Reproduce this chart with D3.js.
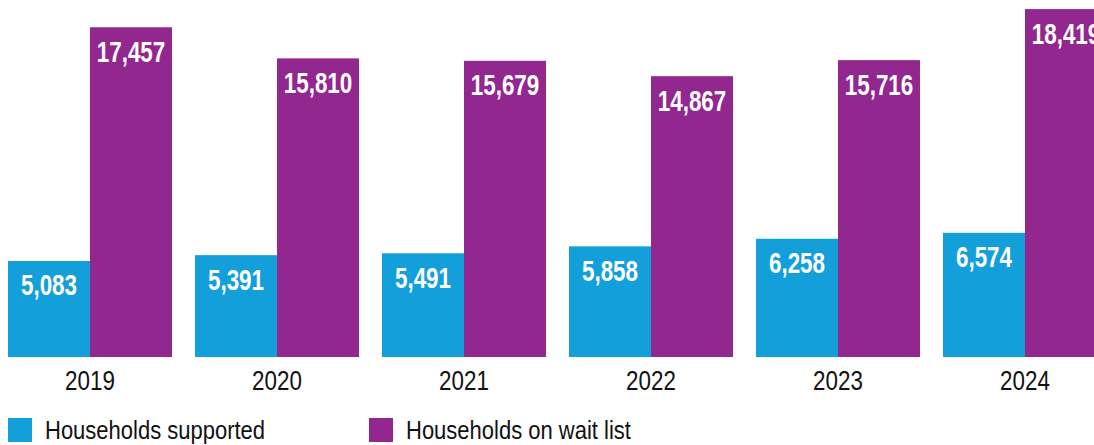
<!DOCTYPE html>
<html>
<head>
<meta charset="utf-8">
<script src="https://cdnjs.cloudflare.com/ajax/libs/d3/7.8.5/d3.min.js"></script>
<style>
  html, body { margin: 0; padding: 0; background: #fff; }
  svg { display: block; }
  text { font-family: "Liberation Sans", Arial, sans-serif; }
</style>
</head>
<body>
<div class="container"></div>
<script>
var years = ['2019', '2020', '2021', '2022', '2023', '2024'];
var supported = [5083, 5391, 5491, 5858, 6258, 6574];
var waitList = [17457, 15810, 15679, 14867, 15716, 18419];
var seriesNames = ['Households supported', 'Households on wait list'];
var seriesColors = ['#129fda', '#92278f'];

let width = 1094,
    height = 445,
    baseline = 357;

let rows = years.map((y, i) => ({ year: y, values: [supported[i], waitList[i]] }));

let svg = d3.select('.container')
            .append('svg')
            .attr('width', width)
            .attr('height', height);

let xScale = d3.scaleBand()
               .domain(years)
               .range([8, 1107])
               .paddingInner(23 / 187)
               .paddingOuter(0);

let x1 = d3.scaleBand()
           .domain([0, 1])
           .range([0, xScale.bandwidth()]);

let yScale = d3.scaleLinear()
               .domain([0, 18900])
               .range([baseline, 0]);

let groups = svg.selectAll('g.group')
  .data(rows)
  .enter()
  .append('g')
  .classed('group', true)
  .attr('transform', d => `translate(${xScale(d.year)}, 0)`);

let bars = groups.selectAll('g.bar')
  .data(d => d.values.map((v, k) => ({ v: v, k: k })))
  .enter()
  .append('g')
  .classed('bar', true);

bars.append('rect')
  .attr('x', d => x1(d.k))
  .attr('y', d => yScale(d.v))
  .attr('width', x1.bandwidth())
  .attr('height', d => baseline - yScale(d.v))
  .attr('fill', d => seriesColors[d.k]);

// condensed look: squeeze a regular face sideways
bars.append('text')
  .attr('transform', d => `translate(${x1(d.k) + x1.bandwidth() / 2}, ${yScale(d.v) + 34.5}) scale(0.76, 1)`)
  .style('text-anchor', 'middle')
  .style('font-size', '29.5px')
  .style('font-weight', 'bold')
  .style('fill', '#fff')
  .text(d => d3.format(',')(d.v));

// year labels under each pair
let xAxis = d3.axisBottom(xScale).tickSize(0).tickPadding(0);
let axisG = svg.append('g')
  .attr('transform', `translate(0, ${baseline})`)
  .call(xAxis);
axisG.select('.domain').remove();
axisG.selectAll('text')
  .attr('dy', null)
  .attr('y', null)
  .attr('transform', 'translate(0, 33) scale(0.8, 1)')
  .style('font-size', '28px')
  .style('font-family', '"Liberation Sans", Arial, sans-serif')
  .style('fill', '#111');

// legend
let legend = svg.selectAll('g.legend')
  .data(seriesNames)
  .enter()
  .append('g')
  .classed('legend', true)
  .attr('transform', (d, i) => `translate(${i === 0 ? 8 : 369}, 418)`);

legend.append('rect')
  .attr('width', 24)
  .attr('height', 24)
  .attr('fill', (d, i) => seriesColors[i]);

legend.append('text')
  .attr('transform', 'translate(37, 21) scale(0.83, 1)')
  .style('font-size', '26.5px')
  .style('fill', '#111')
  .text(d => d);
</script>
</body>
</html>
